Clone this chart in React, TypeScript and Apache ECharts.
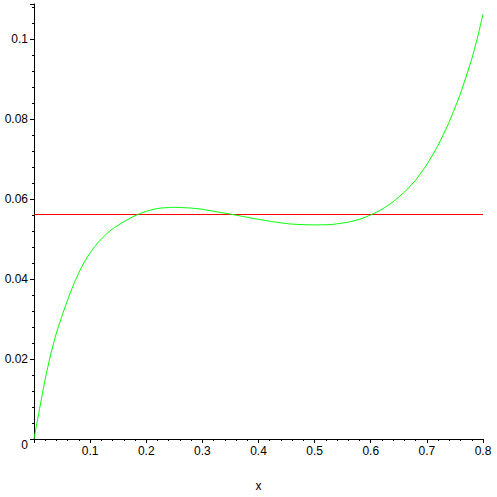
import React, { useEffect, useRef } from "react";
import * as echarts from "echarts";

const xValues = [0, 0.01, 0.02, 0.03, 0.04, 0.05, 0.06, 0.07, 0.08, 0.09, 0.1, 0.11, 0.12, 0.13, 0.14, 0.16, 0.18, 0.2, 0.22, 0.25, 0.28, 0.3, 0.32, 0.35, 0.38, 0.4, 0.43, 0.46, 0.5, 0.53, 0.56, 0.58, 0.6, 0.62, 0.64, 0.66, 0.68, 0.7, 0.72, 0.74, 0.76, 0.78, 0.79, 0.8];
const curveValues = [0, 0.0076, 0.015, 0.0213, 0.0265, 0.0308, 0.0348, 0.0384, 0.0416, 0.0443, 0.0465, 0.0484, 0.05, 0.05135, 0.0525, 0.0543, 0.0558, 0.0569, 0.0576, 0.0579, 0.0577, 0.0574, 0.0569, 0.0562, 0.0554, 0.0549, 0.0542, 0.0537, 0.0535, 0.0536, 0.0542, 0.0549, 0.056, 0.0574, 0.0593, 0.0617, 0.0647, 0.0686, 0.0734, 0.0793, 0.0864, 0.095, 0.1002, 0.1062];
const levelValue = 0.0561;
const xRange = [0, 0.8];

export default function App() {
  const ref = useRef<HTMLDivElement>(null);
  useEffect(() => {
    if (!ref.current) return;
    const chart = echarts.init(ref.current, null, { renderer: "svg" });
    const font = "Liberation Sans, Arial, sans-serif";
    chart.setOption({
      animation: false,
      backgroundColor: "#ffffff",
      grid: { left: 34, right: 14, top: 4, bottom: 54 },
      xAxis: {
        type: "value",
        min: 0,
        max: 0.8,
        interval: 0.1,
        name: "x",
        nameLocation: "middle",
        nameGap: 41,
        nameTextStyle: { color: "#000", fontFamily: font, fontSize: 12 },
        axisLine: { onZero: false, lineStyle: { color: "#000", width: 1 } },
        axisTick: { show: true, inside: false, length: 4, lineStyle: { color: "#000" } },
        minorTick: { show: true, splitNumber: 5, length: 2, lineStyle: { color: "#000" } },
        splitLine: { show: false },
        axisLabel: {
          color: "#000",
          fontFamily: font,
          fontSize: 12,
          margin: 6,
          formatter: (v: number) => (v === 0 ? "" : String(Math.round(v * 10) / 10)),
        },
      },
      yAxis: {
        type: "value",
        min: 0,
        max: 0.1087,
        interval: 0.02,
        axisLine: { show: true, onZero: false, lineStyle: { color: "#000", width: 1 } },
        axisTick: { show: true, length: 4, lineStyle: { color: "#000" } },
        minorTick: { show: true, splitNumber: 5, length: 2, lineStyle: { color: "#000" } },
        splitLine: { show: false },
        axisLabel: {
          color: "#000",
          fontFamily: font,
          fontSize: 12,
          margin: 6,
          formatter: (v: number) =>
            v > 0.1001 ? "" : v === 0 ? "{z|0}" : String(Math.round(v * 100) / 100),
          rich: {
            z: { color: "#000", fontFamily: font, fontSize: 12, padding: [12, 0, 0, 0] },
          },
        },
      },
      series: [
        {
          type: "line",
          data: xValues.map((x, i) => [x, curveValues[i]]),
          smooth: 0.2,
          symbol: "none",
          lineStyle: { color: "#00ff00", width: 1 },
          z: 3,
        },
        {
          type: "line",
          data: xRange.map((x) => [x, levelValue]),
          symbol: "none",
          lineStyle: { color: "#ff0000", width: 1 },
          z: 2,
        },
      ],
    });
    return () => chart.dispose();
  }, []);
  return (
    <div
      ref={ref}
      style={{ position: "absolute", left: 0, top: 0, width: 497, height: 497 }}
    />
  );
}
